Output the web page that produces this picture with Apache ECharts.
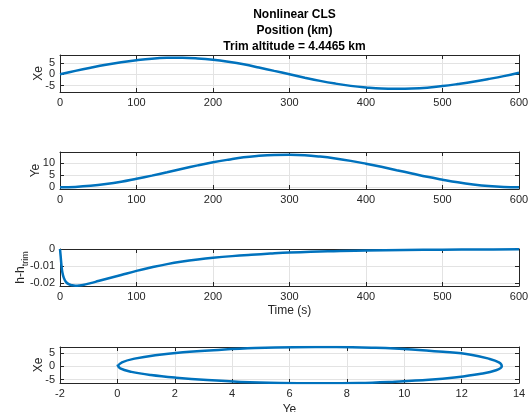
<!DOCTYPE html>
<html>
<head>
<meta charset="utf-8">
<script src="https://cdn.jsdelivr.net/npm/echarts@6/dist/echarts.min.js"></script>
<style>
  html, body { margin: 0; padding: 0; background: #fff; }
  #chart { width: 532px; height: 412px; }
</style>
</head>
<body>
<div id="chart"></div>
<script>
'use strict';

// time samples (s) for the position traces
const t = [0, 20, 40, 60, 80, 100, 120, 140, 160, 180, 200, 220, 240, 260, 280, 300,
    320, 340, 360, 380, 400, 420, 440, 460, 480, 500, 520, 540, 560, 580, 600];
const xe = [0, 1.5, 2.9, 4.2, 5.3, 6.2, 6.9, 7.25, 7.3, 7.0, 6.4, 5.5, 4.4, 3.0, 1.5, 0.0,
    -1.5, -2.9, -4.1, -5.1, -5.8, -6.3, -6.4, -6.3, -5.9, -5.2, -4.3, -3.3, -2.1, -0.8, 0.7];
const ye = [0, 0.16, 0.6, 1.32, 2.29, 3.52, 4.79, 6.16, 7.63, 9.0, 10.27, 11.35, 12.32, 12.91, 13.3, 13.4,
    13.2, 12.62, 11.83, 10.86, 9.68, 8.41, 7.04, 5.67, 4.3, 3.13, 2.05, 1.17, 0.49, 0.1, 0.0];

// altitude deviation from trim (km)
const tH = [0, 1, 2, 3, 5, 8, 12, 16, 20, 25, 30, 40, 50, 60, 80, 100, 120, 140, 160, 180,
    200, 225, 250, 275, 300, 350, 400, 450, 500, 550, 600];
const dh = [0, -0.005, -0.010, -0.0135, -0.0170, -0.0195, -0.0209, -0.0214, -0.0216, -0.0215,
    -0.0212, -0.0201, -0.0189, -0.0177, -0.0153, -0.0129, -0.0108, -0.0089, -0.0074, -0.0062,
    -0.0052, -0.0042, -0.0034, -0.0027, -0.0021, -0.0013, -0.0009, -0.0006, -0.0004, -0.0003, -0.0002];

const titleLines = ['Nonlinear CLS', 'Position (km)', 'Trim altitude = 4.4465 km'];
const timeTicks = [0, 100, 200, 300, 400, 500, 600];
const xeTicks = [-5, 0, 5];
const yeTicks = [0, 5, 10];
const dhTicks = [-0.02, -0.01, 0];

const ink = '#262626';
const blue = '#0072BD';
const font = 'Liberation Sans, Arial, sans-serif';

const grids = [
    {left: 60, right: 13, top: 55, height: 37, outerBoundsMode: 'none'},
    {left: 60, right: 13, top: 152, height: 37, outerBoundsMode: 'none'},
    {left: 60, right: 13, top: 249, height: 37, outerBoundsMode: 'none'},
    {left: 60, right: 13, top: 347, height: 36, outerBoundsMode: 'none'},
];

function boxAxis(gridIndex, position, range, ticks, labels, extra) {
    const axis = {
        type: 'value',
        gridIndex,
        position,
        min: range[0],
        max: range[1],
        nameMoveOverlap: false,
        axisLine: {show: true, onZero: false, lineStyle: {color: ink, width: 1}},
        axisTick: {show: true, inside: true, length: 4, lineStyle: {color: ink}},
        axisLabel: {show: labels, color: ink, fontSize: 11, fontFamily: font, margin: 5},
        splitLine: {show: labels, lineStyle: {color: '#e3e3e3', width: 1}},
    };
    if (ticks.interval) {
        axis.interval = ticks.interval;
    } else {
        axis.axisTick.customValues = ticks;
        axis.axisLabel.customValues = ticks;
    }
    return Object.assign(axis, extra || {});
}

const nameStyle = {color: ink, fontSize: 12, fontFamily: font};

const xRanges = [[0, 600], [0, 600], [0, 600], [-2, 14]];
const yRanges = [[-7.8, 8.5], [-0.7, 14.5], [-0.0218, 0], [-6.3, 7.3]];
const yTickSets = [xeTicks, yeTicks, dhTicks, xeTicks];
const yNames = ['Xe', 'Ye', '{m|h-h}{s|trim}', 'Xe'];
const yNameGaps = [15, 18, 30, 15];

const xAxes = [];
const yAxes = [];
grids.forEach((g, i) => {
    const xt = i === 3 ? {interval: 2} : timeTicks;
    let xExtra = {};
    if (i === 2) xExtra = {name: 'Time (s)', nameLocation: 'middle', nameGap: 19, nameTextStyle: nameStyle};
    if (i === 3) xExtra = {name: 'Ye', nameLocation: 'middle', nameGap: 21, nameTextStyle: nameStyle};
    xAxes.push(boxAxis(i, 'bottom', xRanges[i], xt, true, xExtra));
    xAxes.push(boxAxis(i, 'top', xRanges[i], xt, false));

    const yExtra = {
        name: yNames[i],
        nameLocation: 'middle',
        nameRotate: 90,
        nameGap: yNameGaps[i],
        nameTextStyle: Object.assign({}, nameStyle, {
            rich: {
                m: {fontSize: 12, lineHeight: 18, color: ink, fontFamily: font},
                s: {fontSize: 9, lineHeight: 9, verticalAlign: 'bottom', color: ink, fontFamily: font},
            },
        }),
    };
    if (i === 2) {
        yExtra.axisLabel = {show: true, color: ink, fontSize: 11, fontFamily: font, margin: 5,
            customValues: dhTicks, formatter: v => (v === 0 ? '0' : v.toFixed(2))};
    }
    yAxes.push(boxAxis(i, 'left', yRanges[i], yTickSets[i], true, yExtra));
    yAxes.push(boxAxis(i, 'right', yRanges[i], yTickSets[i], false));
});

const lineStyle = {color: blue, width: 2.5};
function lineSeries(idx, data) {
    return {
        type: 'line',
        xAxisIndex: idx * 2,
        yAxisIndex: idx * 2,
        data,
        smooth: 0.4,
        showSymbol: false,
        lineStyle,
        itemStyle: {color: blue},
        clip: true,
        animation: false,
    };
}

const option = {
    backgroundColor: '#fff',
    animation: false,
    title: {
        text: titleLines.join('\n'),
        left: 289.5,
        top: 2,
        textAlign: 'center',
        textStyle: {color: '#000', fontSize: 12, fontWeight: 'bold', fontFamily: font, lineHeight: 16},
    },
    grid: grids,
    xAxis: xAxes,
    yAxis: yAxes,
    series: [
        lineSeries(0, t.map((v, i) => [v, xe[i]])),
        lineSeries(1, t.map((v, i) => [v, ye[i]])),
        lineSeries(2, tH.map((v, i) => [v, dh[i]])),
        lineSeries(3, t.map((v, i) => [ye[i], xe[i]])),
    ],
};

const chart = echarts.init(document.getElementById('chart'), null, {renderer: 'canvas'});
chart.setOption(option);
</script>
</body>
</html>
